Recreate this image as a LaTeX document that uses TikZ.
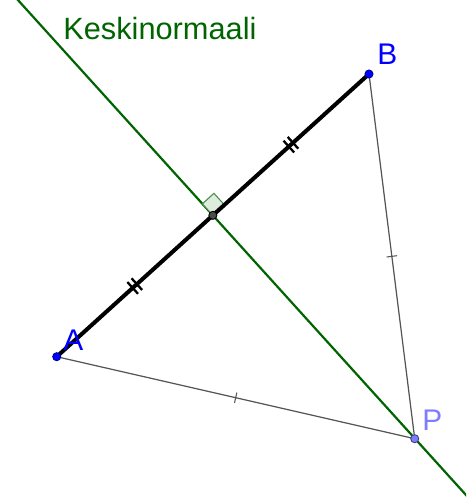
\documentclass[tikz,border=0pt]{standalone}
\usepackage{fontspec}
\setmainfont{Liberation Sans}
\usetikzlibrary{calc,decorations.markings}

\definecolor{normalgreen}{RGB}{0,100,0}
\definecolor{anglegreen}{RGB}{70,140,70}
\definecolor{anglefill}{RGB}{222,236,222}
\definecolor{pointblue}{RGB}{0,0,255}
\definecolor{pointlilac}{RGB}{125,125,255}
\definecolor{segmentgray}{RGB}{85,85,85}

\tikzset{
  dot/.style={circle, inner sep=0pt, minimum size=4.6pt, line width=0.5pt},
  ptlabel/.style={anchor=base west, inner sep=0pt, font=\fontsize{17}{20}\selectfont},
  singletick/.style={postaction={decorate, decoration={markings,
    mark=at position 0.5 with {\draw[line width=0.6pt] (0,-3pt) -- (0,3pt);}}}},
  doubletick/.style={postaction={decorate, decoration={markings,
    mark=at position 0.25 with {\draw[line width=1.3pt] (-1.6pt,-4.5pt) -- (-1.6pt,4.5pt) (1.6pt,-4.5pt) -- (1.6pt,4.5pt);},
    mark=at position 0.75 with {\draw[line width=1.3pt] (-1.6pt,-4.5pt) -- (-1.6pt,4.5pt) (1.6pt,-4.5pt) -- (1.6pt,4.5pt);}}}}
}

\begin{document}
\begin{tikzpicture}[x=0.02cm, y=-0.02cm]
  \useasboundingbox (0,0) rectangle (466,499);
  \clip (0,0) rectangle (466,499);

  % Points
  \coordinate (A) at (56.7,356.7);
  \coordinate (B) at (369,74);
  \coordinate (P) at (414.7,438.7);
  \coordinate (M) at ($(A)!0.5!(B)$);

  % Perpendicular bisector
  \coordinate (Ntop) at ($(M)!1.45!90:(B)$);
  \coordinate (Nbot) at ($(M)!1.9!-90:(B)$);
  \draw[normalgreen, line width=1.25pt] (Ntop) -- (Nbot);

  % Right angle mark
  \coordinate (Mb) at ($(M)!0.074!(B)$);
  \coordinate (Mn) at ($(M)!0.074!90:(B)$);
  \draw[anglegreen, fill=anglefill, line width=0.6pt] (M) -- (Mb) -- ($(Mb)+(Mn)-(M)$) -- (Mn) -- cycle;

  % Segments PA and PB
  \draw[segmentgray, line width=0.7pt, singletick] (A) -- (P);
  \draw[segmentgray, line width=0.7pt, singletick] (B) -- (P);

  % Segment AB
  \draw[line width=2.3pt, doubletick] (A) -- (B);

  % Dots
  \node[dot, fill=pointblue, draw=pointblue!60!black] (Adot) at (A) {};
  \node[dot, fill=pointblue, draw=pointblue!60!black] (Bdot) at (B) {};
  \node[dot, fill=pointlilac, draw=pointlilac!50!black] (Pdot) at (P) {};
  \node[dot, fill=black!70, draw=black] (Mdot) at (M) {};

  % Labels
  \node[ptlabel, text=pointblue] (Alabel) at (63,350) {A};
  \node[ptlabel, text=pointblue] (Blabel) at (377,65) {B};
  \node[ptlabel, text=pointlilac] (Plabel) at (422,430) {P};
  \node[ptlabel, text=normalgreen, font=\fontsize{17.5}{20}\selectfont] (title) at (63,40) {Keskinormaali};
\end{tikzpicture}
\end{document}
